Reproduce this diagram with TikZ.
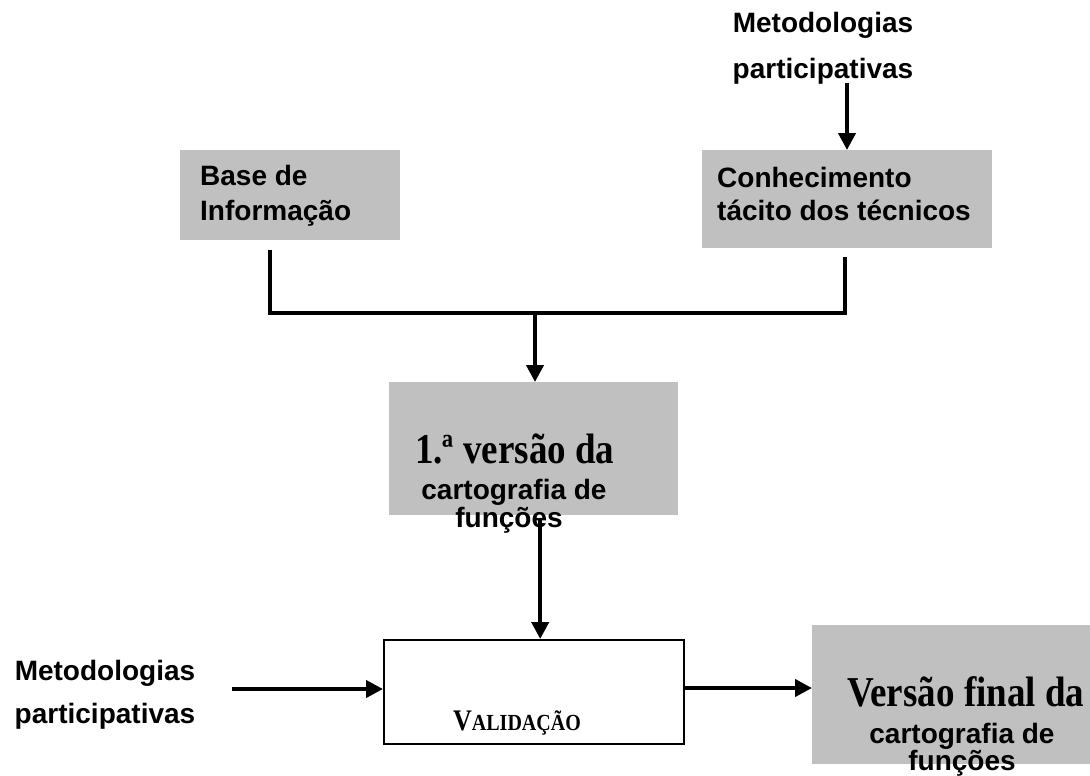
\documentclass[tikz,border=0pt]{standalone}
\usepackage{fontspec}
\setmainfont{Liberation Serif}
\setsansfont{Liberation Sans}
\usetikzlibrary{arrows.meta}
\definecolor{boxgray}{RGB}{192,192,192}
\begin{document}
\begin{tikzpicture}[x=1pt,y=-1pt,
  grayrect/.style={fill=boxgray, draw=none, inner sep=0pt, anchor=north west},
  conn/.style={line width=4pt, line join=miter},
  arr/.style={line width=4pt, -{Triangle[length=17pt,width=17pt]}},
  sans/.style={font=\sffamily\bfseries\fontsize{28}{34}\selectfont, inner sep=0pt},
  serifbig/.style={font=\rmfamily\bfseries\fontsize{37}{40}\selectfont, inner sep=0pt},
]
\fill[white] (0,0) rectangle (1090,776);
\useasboundingbox (0,0) rectangle (1090,776);

% gray boxes
\node[grayrect, minimum width=220pt, minimum height=90pt] (base) at (180,150) {};
\node[grayrect, minimum width=290pt, minimum height=98pt] (conh) at (702,150) {};
\node[grayrect, minimum width=289pt, minimum height=133pt] (v1) at (389,382) {};
\node[grayrect, minimum width=278pt, minimum height=139pt] (final) at (812,625) {};
\node[draw=black, line width=2pt, fill=white, inner sep=0pt, anchor=north west,
      minimum width=300pt, minimum height=104pt] (val) at (383,639) {};

% texts
\node[sans, anchor=base] (mt1) at (823,33) {Metodologias};
\node[sans, anchor=base] (mt2) at (823,78) {participativas};
\node[sans, anchor=base west] (b1) at (200,185) {Base de};
\node[sans, anchor=base west] (b2) at (200,220) {Informação};
\node[sans, anchor=base west] (c1) at (717,187) {Conhecimento};
\node[sans, anchor=base west] (c2) at (717,220) {tácito dos técnicos};
\node[serifbig, anchor=base west] (v1a) at (415,463) {\scalebox{1}[1.15]{1.ª versão da}};
\node[sans, anchor=base] (v1b) at (514,499) {cartografia de};
\node[sans, anchor=base] (v1c) at (509,527) {funções};
\node[sans, anchor=base] (ml1) at (105,680) {Metodologias};
\node[sans, anchor=base] (ml2) at (105,723) {participativas};
\node[inner sep=0pt, anchor=base, font=\rmfamily\bfseries] (valt) at (517,730)
  {\scalebox{1}[1.15]{{\fontsize{26}{26}\selectfont V}{\fontsize{20}{20}\selectfont ALIDAÇÃO}}};
\node[serifbig, anchor=base west] (fa) at (847,706) {\scalebox{1}[1.15]{Versão final da}};
\node[sans, anchor=base] (fb) at (962,743) {cartografia de};
\node[sans, anchor=base] (fc) at (962,770) {funções};

% connectors
\coordinate (topa) at (847,83);
\draw[arr] (topa) -- (topa |- conh.north);

\coordinate (bl) at (270,250);
\coordinate (br) at (845,257);
\coordinate (bj) at (535,313);
\draw[conn] (bl) |- (br |- bj) -- (br);
\draw[arr] ([yshift=2pt]bj) -- (bj |- v1.north);

\draw[arr] ([xshift=6.5pt,yshift=-5pt]v1.south) -- ([xshift=6.5pt]v1.south |- val.north);

\coordinate (lin) at (232,689);
\draw[arr] (lin) -- (lin -| val.west);

\coordinate (rout) at (684,688);
\draw[arr] (rout) -- (rout -| final.west);
\end{tikzpicture}
\end{document}
